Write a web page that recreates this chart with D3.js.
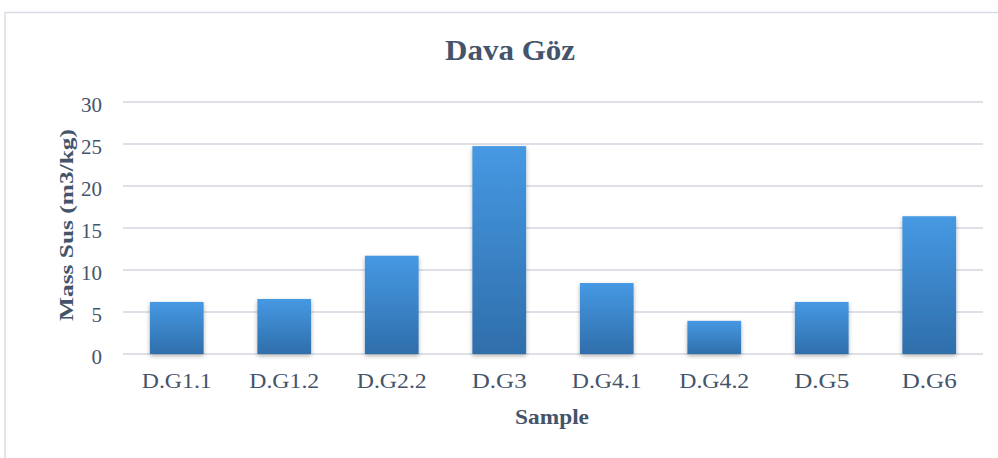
<!DOCTYPE html>
<html>
<head>
<meta charset="utf-8">
<script src="https://cdn.jsdelivr.net/npm/d3@7"></script>
<style>
    body { margin: 0; background: #fff; }
    #chart text { font-family: "Liberation Serif", "DejaVu Serif", serif; fill: #44546A; }
</style>
</head>
<body>
<div id="chart"></div>
<script>
const categories = ["D.G1.1", "D.G1.2", "D.G2.2", "D.G3", "D.G4.1", "D.G4.2", "D.G5", "D.G6"];
const massSus = [6.2, 6.55, 11.7, 24.75, 8.45, 3.95, 6.2, 16.4];
const yTicks = [0, 5, 10, 15, 20, 25, 30];

const width = 998, height = 458;
const margin = { top: 102, right: 15, bottom: 104, left: 123 };

const svg = d3.select('#chart').append('svg')
    .attr('width', width)
    .attr('height', height);

const defs = svg.append('defs');
const grad = defs.append('linearGradient')
    .attr('id', 'barGrad')
    .attr('x1', 0).attr('y1', 0).attr('x2', 0).attr('y2', 1);
grad.append('stop').attr('offset', '0%').attr('stop-color', '#4699E3');
grad.append('stop').attr('offset', '100%').attr('stop-color', '#2F6EAB');

const shadow = defs.append('filter').attr('id', 'shadow')
    .attr('x', '-20%').attr('y', '-10%').attr('width', '140%').attr('height', '125%');
shadow.append('feDropShadow')
    .attr('dx', 0).attr('dy', 2).attr('stdDeviation', 2)
    .attr('flood-color', '#000').attr('flood-opacity', 0.3);

// chart border
svg.append('rect')
    .attr('x', 5).attr('y', 12.5)
    .attr('width', width + 10).attr('height', height)
    .attr('fill', 'none')
    .attr('stroke', '#D9DDE3')
    .attr('stroke-width', 1.5);

const x = d3.scaleBand()
    .domain(categories)
    .range([margin.left, width - margin.right])
    .paddingInner(0.5)
    .paddingOuter(0.25);

const y = d3.scaleLinear()
    .domain([0, 30])
    .range([height - margin.bottom, margin.top]);

// gridlines
svg.append('g').selectAll('line')
    .data(yTicks)
    .join('line')
    .attr('x1', margin.left)
    .attr('x2', width - margin.right)
    .attr('y1', d => y(d))
    .attr('y2', d => y(d))
    .attr('stroke', '#DDE1E7')
    .attr('stroke-width', 2);

// y axis labels
const yAxis = d3.axisLeft(y).tickValues(yTicks).tickSize(0).tickPadding(0);
svg.append('g')
    .attr('transform', `translate(${margin.left - 21},2)`)
    .call(yAxis)
    .call(g => g.select('.domain').remove())
    .selectAll('text')
    .attr('font-size', 21)
    .attr('dy', '0.35em');

// bars
svg.append('g').selectAll('rect')
    .data(massSus)
    .join('rect')
    .attr('x', (d, i) => x(categories[i]))
    .attr('y', d => y(d))
    .attr('width', x.bandwidth())
    .attr('height', d => y(0) - y(d))
    .attr('fill', 'url(#barGrad)')
    .attr('filter', 'url(#shadow)');

// x axis labels
const xAxis = d3.axisBottom(x).tickSize(0).tickPadding(0);
svg.append('g')
    .attr('transform', `translate(0,${y(0) + 34})`)
    .call(xAxis)
    .call(g => g.select('.domain').remove())
    .selectAll('text')
    .attr('font-size', 22)
    .attr('dy', 0)
    .attr('textLength', 70)
    .attr('lengthAdjust', 'spacingAndGlyphs')
    .filter(d => d.length < 5)
    .attr('textLength', 55);

// title
svg.append('text')
    .attr('x', 510)
    .attr('y', 60)
    .attr('text-anchor', 'middle')
    .attr('font-size', 29)
    .attr('font-weight', 'bold')
    .attr('textLength', 130)
    .attr('lengthAdjust', 'spacingAndGlyphs')
    .text('Dava Göz');

// axis titles
svg.append('text')
    .attr('x', 552)
    .attr('y', 424)
    .attr('text-anchor', 'middle')
    .attr('font-size', 22)
    .attr('font-weight', 'bold')
    .attr('textLength', 74)
    .attr('lengthAdjust', 'spacingAndGlyphs')
    .text('Sample');

svg.append('text')
    .attr('transform', 'translate(73,225) rotate(-90)')
    .attr('text-anchor', 'middle')
    .attr('font-size', 19)
    .attr('font-weight', 'bold')
    .attr('textLength', 192)
    .attr('lengthAdjust', 'spacingAndGlyphs')
    .text('Mass Sus (m3/kg)');
</script>
</body>
</html>
